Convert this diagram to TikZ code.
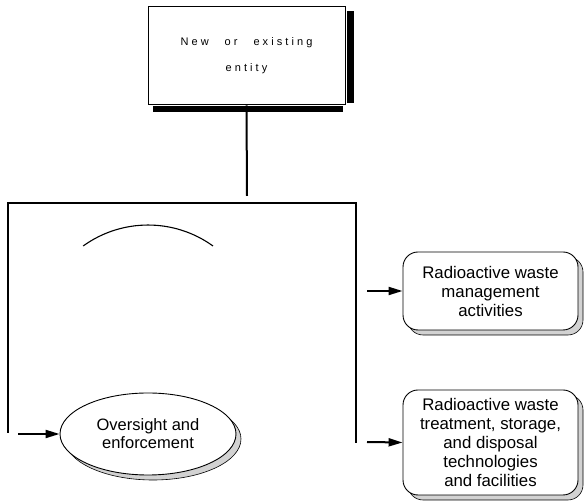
\documentclass[tikz,border=0pt]{standalone}
\usepackage{fontspec}
\setmainfont{Liberation Sans}
\newfontfamily\spacedfont[LetterSpace=28, WordSpace=2.6]{Liberation Sans}
\usetikzlibrary{shapes.geometric,arrows.meta,shadows}

\tikzset{
  entitybox/.style={draw, line width=1pt, minimum width=197pt, minimum height=98pt,
    inner sep=0pt, align=center, font=\spacedfont\fontsize{11}{26}\selectfont},
  actshadow/.style={drop shadow={opacity=1, fill=gray!35, draw=black, line width=0.6pt,
    shadow xshift=5pt, shadow yshift=-5pt}},
  actbox/.style={draw, line width=0.9pt, rounded corners=15pt, fill=white, actshadow,
    minimum width=175pt, inner sep=0pt, align=center, font=\fontsize{16.8}{19}\selectfont},
  ovalbox/.style={ellipse, draw, line width=0.9pt, fill=white, actshadow,
    minimum width=176pt, minimum height=82pt, inner sep=0pt, align=center,
    font=\fontsize{16.5}{18}\selectfont},
  feed/.style={line width=2pt, -{Triangle[length=14pt,width=8pt]}},
}

\begin{document}
\begin{tikzpicture}[x=1pt, y=1pt]
    \useasboundingbox (0,0) rectangle (584,503);

    % Entite
    \node[entitybox] (entity) at (246.5, 447) {New or existing\\entity};
    \fill ([xshift=1pt, yshift=-5pt]entity.north east) rectangle ([xshift=8pt, yshift=2pt]entity.south east);
    \fill ([xshift=5pt, yshift=-1pt]entity.south west) rectangle ([xshift=-3pt, yshift=-7pt]entity.south east);

    % Liaison et cadre
    \coordinate (join) at (247, 307);
    \draw[line width=2pt] (entity.south) -- (join);
    \draw[line width=1.8pt] (8, 70) -- (8, 300) -- (356, 300) -- (356, 60);
    \draw[line width=1.1pt] (213, 257) arc[start angle=54.2, end angle=125.8, radius=111];

    % Fonctions
    \node[ovalbox] (oversight) at (148, 69) {Oversight and\\enforcement};
    \node[actbox, minimum height=78pt] (activities) at (490.5, 212)
        {Radioactive waste\\management\\activities};
    \node[actbox, minimum height=105pt] (facilities) at (490.5, 60.5)
        {Radioactive waste\\treatment, storage,\\and disposal\\technologies\\and facilities};

    % Fleches
    \coordinate (inL) at (18, 69);
    \coordinate (outA) at (367, 212);
    \coordinate (outB) at (367, 61);
    \draw[feed] (inL) -- (oversight.west);
    \draw[feed] (outA) -- (activities.west);
    \draw[feed] (outB) -- (facilities.west);

\end{tikzpicture}
\end{document}
